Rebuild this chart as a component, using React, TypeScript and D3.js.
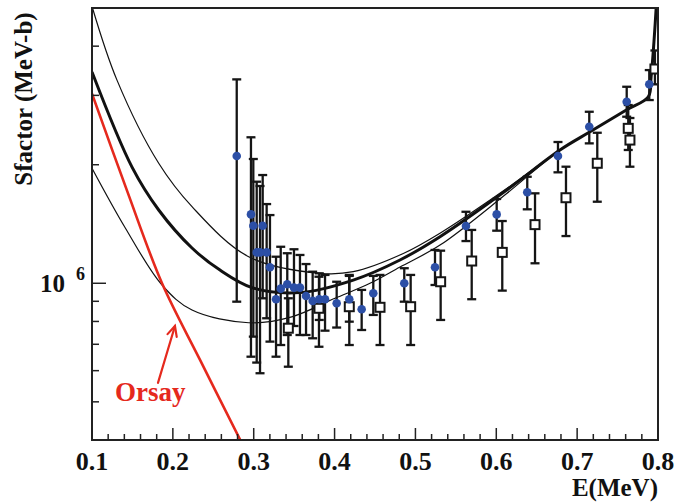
import React from 'react';
import * as d3 from 'd3';

// ---------- data ----------
const xTickValues = [0.1, 0.2, 0.3, 0.4, 0.5, 0.6, 0.7, 0.8];
const xTickLabels = ['0.1', '0.2', '0.3', '0.4', '0.5', '0.6', '0.7', '0.8'];
const yMinorTicks = [5e5, 6e5, 7e5, 8e5, 9e5, 2e6, 3e6, 4e6];
const yMajorTick = 1e6;

// blue circles: E (MeV), S (MeV-b, x1e6), upper and lower error limits
const blueE = [0.279, 0.2966, 0.2995, 0.3037, 0.3078, 0.3111, 0.316, 0.3201, 0.3276, 0.3334, 0.3415, 0.3498, 0.3572, 0.3647, 0.3729, 0.3811, 0.3882, 0.4026, 0.4182, 0.4335, 0.4479, 0.4862, 0.5242, 0.5625, 0.6005, 0.6383, 0.6763, 0.715, 0.7613, 0.7892];
const blueS = [2.104, 1.496, 1.4, 1.198, 1.198, 1.4, 1.198, 1.098, 0.911, 0.969, 0.994, 0.975, 0.975, 0.928, 0.902, 0.911, 0.911, 0.89, 0.911, 0.859, 0.943, 1.0, 1.098, 1.398, 1.496, 1.702, 2.104, 2.497, 2.89, 3.2];
const blueHi = [3.294, 2.348, 2.068, 1.811, 1.766, 1.883, 1.589, 1.49, 1.168, 1.238, 1.192, 1.22, 1.18, 1.119, 1.07, 1.06, 1.05, 1.009, 1.044, 0.962, 1.044, 1.092, 1.215, 1.519, 1.637, 1.864, 2.284, 2.726, 3.155, 3.478];
const blueLo = [0.898, 0.651, 0.732, 0.629, 0.591, 0.916, 0.815, 0.711, 0.651, 0.697, 0.739, 0.779, 0.739, 0.739, 0.725, 0.807, 0.758, 0.772, 0.799, 0.761, 0.831, 0.898, 0.99, 1.28, 1.36, 1.541, 1.913, 2.266, 2.648, 2.919];

// open squares
const sqE = [0.3428, 0.3807, 0.4182, 0.4562, 0.4941, 0.5312, 0.5696, 0.6074, 0.6479, 0.6862, 0.7249, 0.7632, 0.7653, 0.7962];
const sqS = [0.769, 0.864, 0.872, 0.869, 0.872, 1.009, 1.139, 1.198, 1.409, 1.649, 2.017, 2.474, 2.31, 3.5];
const sqHi = [0.916, 1.039, 1.05, 1.05, 1.05, 1.21, 1.366, 1.439, 1.692, 1.977, 2.411, 2.835, 2.628, 3.9];
const sqLo = [0.614, 0.69, 0.697, 0.697, 0.697, 0.807, 0.911, 0.958, 1.124, 1.318, 1.611, 2.18, 1.977, 3.2];

// curves (S in units of 1e6)
const thickE = [0.1, 0.1495, 0.1825, 0.2237, 0.2583, 0.2979, 0.357, 0.4231, 0.4809, 0.5304, 0.6129, 0.6788, 0.7159, 0.7613, 0.788, 0.7915, 0.795, 0.7985];
const thickS = [3.44, 1.972, 1.535, 1.229, 1.08, 0.975, 0.947, 1.019, 1.146, 1.313, 1.725, 2.18, 2.424, 2.758, 2.976, 3.35, 4.1, 5.3];
const upperE = [0.1, 0.1309, 0.1825, 0.2237, 0.2938, 0.382, 0.4231, 0.485, 0.5304, 0.6129, 0.6788, 0.7159, 0.7613, 0.788, 0.7915, 0.795, 0.7985];
const upperS = [5.05, 3.28, 2.017, 1.565, 1.168, 1.06, 1.07, 1.19, 1.34, 1.74, 2.18, 2.424, 2.758, 2.976, 3.35, 4.1, 5.3];
const lowerE = [0.1, 0.1412, 0.1866, 0.2237, 0.2938, 0.347, 0.4005, 0.4438, 0.4809, 0.5304, 0.6129, 0.6788, 0.7159, 0.7613, 0.788, 0.7915, 0.795, 0.7985];
const lowerS = [1.96, 1.382, 0.99, 0.855, 0.794, 0.822, 0.916, 1.0, 1.1, 1.25, 1.69, 2.18, 2.424, 2.758, 2.976, 3.35, 4.1, 5.3];
const redE = [0.1, 0.1433, 0.1866, 0.2336, 0.2834];
const redS = [3.03, 1.719, 1.0, 0.639, 0.4];

// annotation (data coordinates)
const orsayLabel = { E: 0.1284, S: 0.503 };
const arrowTail = { E: 0.1816, S: 0.5585 };
const arrowTip = { E: 0.2026, S: 0.779 };

// ---------- chart ----------
const W = 695;
const H = 504;
const PL = 92, PR = 658, PT = 8, PB = 440;
const FONT = '"Liberation Serif", "Times New Roman", serif';
const RED = '#e5291d';
const BLUE = '#2c4fa6';

export default function App() {
  const x = d3.scaleLinear().domain([0.1, 0.8]).range([PL, PR]);
  const y = d3.scaleLog().domain([4e5, 5e6]).range([PB, PT]);
  const line = d3
    .line<[number, number]>()
    .x((d) => x(d[0]))
    .y((d) => y(d[1] * 1e6))
    .curve(d3.curveCatmullRom.alpha(0.5));

  const mk = (E: number[], S: number[]) => E.map((e, i) => [e, S[i]] as [number, number]);

  const xMinor = d3.range(0.12, 0.8, 0.02).filter((v) => Math.abs(v * 10 - Math.round(v * 10)) > 1e-6);

  // arrow geometry
  const tx = x(arrowTip.E), ty = y(arrowTip.S * 1e6);
  const sx = x(arrowTail.E), sy = y(arrowTail.S * 1e6);
  const ang = Math.atan2(sy - ty, sx - tx);
  const hl = 11, ha = 0.45;
  const h1 = [tx + hl * Math.cos(ang + ha), ty + hl * Math.sin(ang + ha)];
  const h2 = [tx + hl * Math.cos(ang - ha), ty + hl * Math.sin(ang - ha)];

  const cap = 4.5;

  return (
    <svg
      width={W}
      height={H}
      style={{ position: 'absolute', left: 0, top: 0, background: '#fff' }}
      fontFamily={FONT}
    >
      <defs>
        <clipPath id="plot">
          <rect x={PL} y={PT} width={PR - PL} height={PB - PT} />
        </clipPath>
      </defs>
      <rect x={0} y={0} width={W} height={H} fill="#fff" />

      {/* curves */}
      <g clipPath="url(#plot)" fill="none">
        <path d={line(mk(upperE, upperS)) || ''} stroke="#111" strokeWidth={1.2} />
        <path d={line(mk(lowerE, lowerS)) || ''} stroke="#111" strokeWidth={1.2} />
        <path d={line(mk(thickE, thickS)) || ''} stroke="#111" strokeWidth={3} />
        <path d={line(mk(redE, redS)) || ''} stroke={RED} strokeWidth={2.6} />
      </g>

      {/* error bars */}
      <g stroke="#151515" strokeWidth={2.3} clipPath="url(#plot)">
        {blueE.map((e, i) => (
          <g key={'be' + i}>
            <line x1={x(e)} x2={x(e)} y1={y(blueHi[i] * 1e6)} y2={y(blueLo[i] * 1e6)} />
            <line x1={x(e) - cap} x2={x(e) + cap} y1={y(blueHi[i] * 1e6)} y2={y(blueHi[i] * 1e6)} />
            <line x1={x(e) - cap} x2={x(e) + cap} y1={y(blueLo[i] * 1e6)} y2={y(blueLo[i] * 1e6)} />
          </g>
        ))}
        {sqE.map((e, i) => (
          <g key={'se' + i}>
            <line x1={x(e)} x2={x(e)} y1={y(sqHi[i] * 1e6)} y2={y(sqLo[i] * 1e6)} />
            <line x1={x(e) - cap} x2={x(e) + cap} y1={y(sqHi[i] * 1e6)} y2={y(sqHi[i] * 1e6)} />
            <line x1={x(e) - cap} x2={x(e) + cap} y1={y(sqLo[i] * 1e6)} y2={y(sqLo[i] * 1e6)} />
          </g>
        ))}
      </g>

      {/* squares */}
      <g clipPath="url(#plot)">
        {sqE.map((e, i) => (
          <rect
            key={'s' + i}
            x={x(e) - 4.5}
            y={y(sqS[i] * 1e6) - 4.5}
            width={9}
            height={9}
            fill="#fff"
            stroke="#151515"
            strokeWidth={2}
          />
        ))}
      </g>

      {/* circles */}
      <g fill={BLUE}>
        {blueE.map((e, i) => (
          <circle key={'c' + i} cx={x(e)} cy={y(blueS[i] * 1e6)} r={4.3} />
        ))}
      </g>

      {/* frame */}
      <rect x={PL} y={PT} width={PR - PL} height={PB - PT} fill="none" stroke="#222" strokeWidth={2} />

      {/* ticks */}
      <g stroke="#222" strokeWidth={1.5}>
        {xTickValues.map((v) => (
          <line key={'xt' + v} x1={x(v)} x2={x(v)} y1={PB} y2={PB - 12} />
        ))}
        {xMinor.map((v) => (
          <line key={'xm' + v} x1={x(v)} x2={x(v)} y1={PB} y2={PB - 6} />
        ))}
        <line x1={PL} x2={PL + 14} y1={y(yMajorTick)} y2={y(yMajorTick)} />
        {yMinorTicks.map((v) => (
          <line key={'ym' + v} x1={PL} x2={PL + 7} y1={y(v)} y2={y(v)} />
        ))}
      </g>

      {/* tick labels */}
      <g fontWeight="bold" fontSize={26} fill="#111" textAnchor="middle">
        {xTickValues.map((v, i) => (
          <text key={'xl' + v} x={x(v)} y={470}>
            {xTickLabels[i]}
          </text>
        ))}
      </g>
      <text x={40} y={y(yMajorTick) + 8.5} fontWeight="bold" fontSize={25} fill="#111">
        10
        <tspan x={76} y={y(yMajorTick) - 3.5} fontSize={18}>
          6
        </tspan>
      </text>

      {/* axis titles */}
      <text x={PR} y={496} textAnchor="end" fontWeight="bold" fontSize={25} fill="#111">
        E(MeV)
      </text>
      <text
        transform={`translate(32,99) rotate(-90)`}
        textAnchor="middle"
        fontWeight="bold"
        fontSize={25}
        fill="#111"
      >
        Sfactor (MeV-b)
      </text>

      {/* Orsay annotation */}
      <text x={x(orsayLabel.E)} y={y(orsayLabel.S * 1e6)} fontWeight="bold" fontSize={27} fill={RED}>
        Orsay
      </text>
      <g stroke={RED} strokeWidth={2.2} fill="none" strokeLinecap="round">
        <line x1={sx} y1={sy} x2={tx} y2={ty} />
        <polyline points={`${h1[0]},${h1[1]} ${tx},${ty} ${h2[0]},${h2[1]}`} />
      </g>
    </svg>
  );
}
